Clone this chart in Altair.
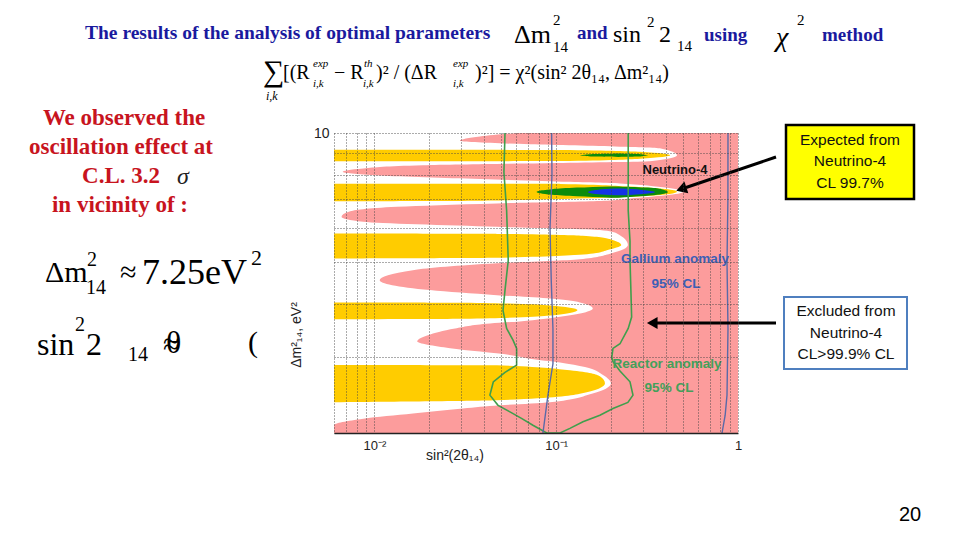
import altair as alt
import pandas as pd

# ---------------- data ----------------
X_MIN, X_MAX = 0.006, 1.0
Y_MIN, Y_MAX = 2.0, 10.0

x_grid = [0.006, 0.007, 0.008, 0.009, 0.01, 0.02, 0.03, 0.04, 0.05, 0.06, 0.07, 0.08, 0.09,
          0.1, 0.2, 0.3, 0.4, 0.5, 0.6, 0.7, 0.8, 0.9, 1.0]
y_grid = [2, 3, 4, 5, 6, 7, 8, 9, 10]

# excluded region (pink): left boundary sin^2 at each dm^2
pink_dm2 = [10.0, 9.81, 9.59, 9.41, 9.29, 9.21, 8.87, 8.59, 8.51, 8.41, 8.27, 8.12, 7.96, 7.81,
            7.70, 7.63, 7.29, 7.04, 6.94, 6.855, 6.73, 6.56, 6.38, 6.21, 6.045, 5.94, 5.83, 5.48,
            5.24, 5.08, 4.97, 4.79, 4.54, 4.305, 4.19, 4.12, 4.03, 3.90, 3.73, 3.64, 3.60, 3.505,
            3.38, 3.27, 3.15, 3.04, 2.98, 2.92, 2.85, 2.73, 2.61, 2.47, 2.36, 2.32, 2.28, 2.22,
            2.16, 2.085, 2.0]
pink_sin = [0.0609, 0.0381, 0.0296, 0.0718, 0.224, 0.372, 0.462, 0.328, 0.101, 0.0185, 0.0087,
            0.0067, 0.0107, 0.0381, 0.109, 0.224, 0.498, 0.255, 0.168, 0.0472, 0.0133, 0.0073,
            0.0066, 0.0087, 0.0472, 0.174, 0.216, 0.248, 0.200, 0.135, 0.0472, 0.0163, 0.0107,
            0.0202, 0.0472, 0.089, 0.135, 0.159, 0.105, 0.0632, 0.0433, 0.0278, 0.0197, 0.0172,
            0.0261, 0.0557, 0.0718, 0.105, 0.144, 0.181, 0.200, 0.157, 0.0925, 0.049, 0.0307,
            0.0163, 0.0087, 0.006, 0.006]

# allowed bands (yellow): right boundary sin^2 at each dm^2
band1_dm2 = [9.14, 9.13, 9.04, 8.87, 8.71, 8.60, 8.59]
band1_sin = [0.006, 0.105, 0.289, 0.423, 0.289, 0.105, 0.006]
band2_dm2 = [7.62, 7.61, 7.50, 7.30, 7.13, 7.02, 6.94, 6.93]
band2_sin = [0.006, 0.105, 0.255, 0.462, 0.316, 0.109, 0.0202, 0.006]
band3_dm2 = [5.83, 5.82, 5.76, 5.65, 5.48, 5.33, 5.24, 5.12, 5.10]
band3_sin = [0.006, 0.0472, 0.14, 0.20, 0.228, 0.19, 0.16, 0.0472, 0.006]
band4_dm2 = [4.03, 4.025, 3.97, 3.87, 3.75, 3.69, 3.68]
band4_sin = [0.006, 0.0307, 0.089, 0.131, 0.089, 0.0307, 0.006]
band5_dm2 = [2.88, 2.875, 2.80, 2.71, 2.61, 2.47, 2.385, 2.36]
band5_sin = [0.006, 0.0472, 0.119, 0.174, 0.1855, 0.135, 0.0472, 0.006]

# Neutrino-4 regions
n4g1_dm2 = [8.955, 8.93, 8.89, 8.87, 8.85, 8.81, 8.79]
n4g1_lo = [0.22, 0.165, 0.14, 0.132, 0.14, 0.165, 0.22]
n4g1_hi = [0.22, 0.28, 0.31, 0.322, 0.31, 0.28, 0.22]
n4g2_dm2 = [7.51, 7.46, 7.40, 7.33, 7.29, 7.24, 7.18, 7.12, 7.07]
n4g2_lo = [0.2, 0.13, 0.095, 0.08, 0.078, 0.082, 0.095, 0.13, 0.2]
n4g2_hi = [0.22, 0.32, 0.38, 0.405, 0.412, 0.40, 0.36, 0.29, 0.22]
n4b_dm2 = [7.42, 7.38, 7.33, 7.29, 7.24, 7.20, 7.16]
n4b_lo = [0.21, 0.17, 0.155, 0.1496, 0.155, 0.17, 0.21]
n4b_hi = [0.23, 0.29, 0.33, 0.35, 0.33, 0.29, 0.24]

# Reactor anomaly 95% CL contour (left branch down, right branch up)
react_dm2 = [10, 8.1, 6.6, 5.05, 4.3, 3.86, 3.505, 3.29, 3.148, 2.878, 2.77, 2.63, 2.45, 2.32,
             2.24, 2.16, 2.085, 2.0,
             2.0, 2.05, 2.124, 2.2, 2.281, 2.356, 2.45, 2.632, 2.79, 2.931, 3.005, 3.148, 3.228,
             3.505, 3.725, 4.3, 5.05, 5.6, 6.6, 10]
react_sin = [0.0523, 0.0516, 0.0534, 0.0545, 0.0523, 0.051, 0.0534, 0.0579, 0.0606, 0.0606,
             0.0523, 0.0451, 0.0432, 0.0479, 0.0557, 0.0648, 0.0745, 0.0887,
             0.105, 0.119, 0.1404, 0.174, 0.2053, 0.248, 0.2645, 0.2547, 0.2244, 0.2053, 0.2022,
             0.2053, 0.2244, 0.249, 0.26, 0.2576, 0.2547, 0.2547, 0.249, 0.249]

# Gallium anomaly 95% CL contour (two branches)
gal_l_dm2 = [10, 8.0, 6.0, 4.5, 3.5, 2.9, 2.45, 2.0]
gal_l_sin = [0.0944, 0.0948, 0.0925, 0.094, 0.096, 0.096, 0.0901, 0.0846]
gal_r_dm2 = [10, 7.0, 5.0, 3.5, 2.45, 2.2, 2.0]
gal_r_sin = [0.881, 0.88, 0.87, 0.881, 0.87, 0.85, 0.817]

# ---------------- styles ----------------
PINK = "#fc9c9c"
YELLOW = "#ffcc00"
GREEN_FILL = "#0b8c0b"
BLUE_FILL = "#1434e6"
GREEN_LINE = "#3f9f4c"
BLUE_LINE = "#5a6aa8"
TITLE_BLUE = "#1a1a9e"
RED = "#c8141e"
SERIF = "Liberation Serif"
SANS = "Liberation Sans"
NARROW = "Liberation Sans Narrow, Liberation Sans"

OX, OY = 334, 133  # plot origin on the page
W, H = 404, 300

xscale = alt.Scale(type="log", domain=[X_MIN, X_MAX], nice=False)
yscale = alt.Scale(type="log", domain=[Y_MIN, Y_MAX], nice=False)

xaxis = alt.Axis(
    values=x_grid, title=None, grid=True, gridDash=[1, 2], gridColor="#444", gridWidth=0.9,
    ticks=False, domain=True, domainColor="#222", domainWidth=1.5, zindex=1,
    labelExpr="abs(datum.value-0.01)<1e-9 ? '10⁻²' : abs(datum.value-0.1)<1e-9 ? '10⁻¹' : abs(datum.value-1)<1e-9 ? '1' : ''",
    labelFontSize=13, labelFont=NARROW, labelColor="#222", labelPadding=6, labelOverlap=False,
    labelFlush=False)
yaxis = alt.Axis(
    values=y_grid, title=None, grid=True, gridDash=[1, 2], gridColor="#444", gridWidth=0.9,
    ticks=False, domain=False, zindex=1,
    labelExpr="datum.value == 10 ? '10' : ''", labelFontSize=14, labelFont=NARROW,
    labelColor="#222", labelPadding=5, labelOverlap=False, labelFlush=False)


def X(field):
    return alt.X(field, type="quantitative", scale=xscale, axis=xaxis)


def Y(field):
    return alt.Y(field, type="quantitative", scale=yscale, axis=yaxis)


# pink excluded region
pink_df = pd.DataFrame({"dm2": pink_dm2, "sin": pink_sin})
pink_df["right"] = X_MAX
pink = alt.Chart(pink_df).mark_area(orient="horizontal", color=PINK, opacity=1,
                                    interpolate="monotone").encode(
    y=Y("dm2"), x=X("sin"), x2="right:Q")

# yellow bands
bands = []
for k, (d, s) in enumerate([(band1_dm2, band1_sin), (band2_dm2, band2_sin), (band3_dm2, band3_sin),
                            (band4_dm2, band4_sin), (band5_dm2, band5_sin)]):
    for a, b in zip(d, s):
        bands.append({"band": k, "dm2": a, "sin": b, "left": X_MIN})
band_df = pd.DataFrame(bands)
yellow = alt.Chart(band_df).mark_area(orient="horizontal", color=YELLOW, opacity=1,
                                      interpolate="monotone").encode(
    y=Y("dm2"), x=X("sin"), x2="left:Q", detail="band:N")


# Neutrino-4 regions
def region(d, lo, hi, name):
    return pd.DataFrame({"dm2": d, "lo": lo, "hi": hi, "reg": name})


green_df = pd.concat([region(n4g1_dm2, n4g1_lo, n4g1_hi, "g1"), region(n4g2_dm2, n4g2_lo, n4g2_hi, "g2")])
green = alt.Chart(green_df).mark_area(orient="horizontal", color=GREEN_FILL, opacity=1,
                                      interpolate="monotone").encode(
    y=Y("dm2"), x=X("lo"), x2="hi:Q", detail="reg:N")
blue = alt.Chart(region(n4b_dm2, n4b_lo, n4b_hi, "b")).mark_area(
    orient="horizontal", color=BLUE_FILL, opacity=1, interpolate="monotone").encode(
    y=Y("dm2"), x=X("lo"), x2="hi:Q")

# contours
react_df = pd.DataFrame({"dm2": react_dm2, "sin": react_sin, "i": range(len(react_dm2))})
react = alt.Chart(react_df).mark_line(color=GREEN_LINE, strokeWidth=1.6).encode(
    y=Y("dm2"), x=X("sin"), order="i:Q")
gal_df = pd.concat([
    pd.DataFrame({"dm2": gal_l_dm2, "sin": gal_l_sin, "c": "l", "i": range(len(gal_l_dm2))}),
    pd.DataFrame({"dm2": gal_r_dm2, "sin": gal_r_sin, "c": "r", "i": range(len(gal_r_dm2))}),
])
gal = alt.Chart(gal_df).mark_line(color=BLUE_LINE, strokeWidth=1.4).encode(
    y=Y("dm2"), x=X("sin"), order="i:Q", detail="c:N")


# ---------------- annotations ----------------
def txt(s, x, y, size, color="black", font=SERIF, weight="normal", style="normal",
        align="left", angle=0):
    return alt.Chart(pd.DataFrame({"t": [s]})).mark_text(
        align=align, baseline="middle", fontSize=size, font=font, fontWeight=weight,
        fontStyle=style, color=color, angle=angle).encode(
        x=alt.value(x - OX), y=alt.value(y - OY), text="t:N")


def box(x1, y1, x2, y2, fill, stroke, sw):
    return alt.Chart(pd.DataFrame({"a": [0]})).mark_rect(
        fill=fill, stroke=stroke, strokeWidth=sw).encode(
        x=alt.value(x1 - OX), x2=alt.value(x2 - OX), y=alt.value(y1 - OY), y2=alt.value(y2 - OY))


def rule(x1, y1, x2, y2):
    return alt.Chart(pd.DataFrame({"a": [0]})).mark_rule(color="black", strokeWidth=3).encode(
        x=alt.value(x1 - OX), x2=alt.value(x2 - OX), y=alt.value(y1 - OY), y2=alt.value(y2 - OY))


def head(x, y, ang):
    return alt.Chart(pd.DataFrame({"a": [0]})).mark_point(
        shape="triangle", filled=True, color="black", size=150, angle=ang, opacity=1).encode(
        x=alt.value(x - OX), y=alt.value(y - OY))


texts = [
    # title line
    txt("The results of the analysis of optimal parameters", 85, 33, 19.5, TITLE_BLUE, weight="bold"),
    txt("Δm", 514, 35, 26),
    txt("2", 553, 20, 15),
    txt("14", 553, 47, 15),
    txt("and", 577, 33, 19, TITLE_BLUE, weight="bold"),
    txt("sin", 613, 35, 24),
    txt("2", 647, 22, 15),
    txt("2", 659, 35, 24),
    txt("14", 677, 46, 15),
    txt("using", 704, 35, 19, TITLE_BLUE, weight="bold"),
    txt("χ", 776, 38, 28, style="italic"),
    txt("2", 797, 20, 15),
    txt("method", 822, 35, 19, TITLE_BLUE, weight="bold"),
    # formula line
    txt("∑", 263, 72, 30),
    txt("i,k", 266, 96, 12, style="italic"),
    txt("[(R", 283, 73, 20),
    txt("exp", 313, 64, 11, style="italic"),
    txt("i,k", 313, 84, 11, style="italic"),
    txt("− R", 334, 73, 20),
    txt("th", 364, 64, 11, style="italic"),
    txt("i,k", 363, 84, 11, style="italic"),
    txt(")² / (ΔR", 376, 73, 20),
    txt("exp", 453, 64, 11, style="italic"),
    txt("i,k", 453, 84, 11, style="italic"),
    txt(")²] = χ²(sin² 2θ₁₄, Δm²₁₄)", 475, 73, 20),
    # red statement
    txt("We observed the", 124, 118, 23, RED, weight="bold", align="center"),
    txt("oscillation effect at", 121, 147, 23, RED, weight="bold", align="center"),
    txt("C.L. 3.2", 121, 176, 23, RED, weight="bold", align="center"),
    txt("σ", 183, 177, 24, "#222", style="italic", align="center"),
    txt("in  vicinity of :", 120, 205, 23, RED, weight="bold", align="center"),
    # big formulas
    txt("Δm", 45, 273, 30),
    txt("2", 87, 260, 20),
    txt("14", 86, 288, 20),
    txt("≈", 120, 273, 30),
    txt("7.25eV", 142, 273, 36),
    txt("2", 251, 258, 22),
    txt("sin", 37, 345, 32),
    txt("2", 75, 325, 20),
    txt("2", 86, 345, 32),
    txt("14", 128, 355, 20),
    txt("≈", 163, 345, 30),
    txt("θ", 166, 343, 32),
    txt("(", 248, 343, 30),
    # plot labels
    txt("Neutrino-4", 675, 170, 13, "#111", font=NARROW, weight="bold", align="center"),
    txt("Gallium anomaly", 675, 259, 13.5, "#3d5fb5", font=NARROW, weight="bold", align="center"),
    txt("95% CL", 676, 284, 13.5, "#3d5fb5", font=NARROW, weight="bold", align="center"),
    txt("Reactor anomaly", 667, 364, 13.5, "#43a05a", font=NARROW, weight="bold", align="center"),
    txt("95% CL", 669, 388, 13.5, "#43a05a", font=NARROW, weight="bold", align="center"),
    txt("sin²(2θ₁₄)", 455, 456, 14, "#222", font=NARROW, align="center"),
    txt("Δm²₁₄, eV²", 297, 335, 14, "#222", font=NARROW, align="center", angle=270),
    txt("20", 910, 515, 20, "black", font=SANS, align="center"),
]

boxes = [
    box(786, 125, 914, 199, "#ffff00", "black", 2.5),
    box(784, 297, 907, 369, "white", "#4f7fbf", 2),
]
box_texts = [
    txt("Expected from", 850, 140, 15.5, "#111", font=SANS, align="center"),
    txt("Neutrino-4", 850, 161, 15.5, "#111", font=SANS, align="center"),
    txt("CL 99.7%", 850, 183, 15.5, "#111", font=SANS, align="center"),
    txt("Excluded from", 846, 311, 15.5, "#111", font=SANS, align="center"),
    txt("Neutrino-4", 846, 333, 15.5, "#111", font=SANS, align="center"),
    txt("CL>99.9% CL", 846, 354, 15.5, "#111", font=SANS, align="center"),
]
arrows = [
    rule(776, 157, 686, 187.5),
    head(683, 188.5, 251.4),
    rule(776, 323, 657, 323),
    head(654, 323, 270),
]

chart = alt.layer(pink, yellow, green, blue, react, gal, *texts, *boxes, *box_texts, *arrows).properties(
    width=W, height=H,
    autosize=alt.AutoSizeParams(type="none"),
    padding={"left": OX - 8, "top": OY - 8, "right": 944 - (OX - 8) - W, "bottom": 524 - (OY - 8) - H},
    background="white",
).configure_view(stroke=None)

chart.save("out.html", embed_options={"renderer": "svg", "actions": False})
